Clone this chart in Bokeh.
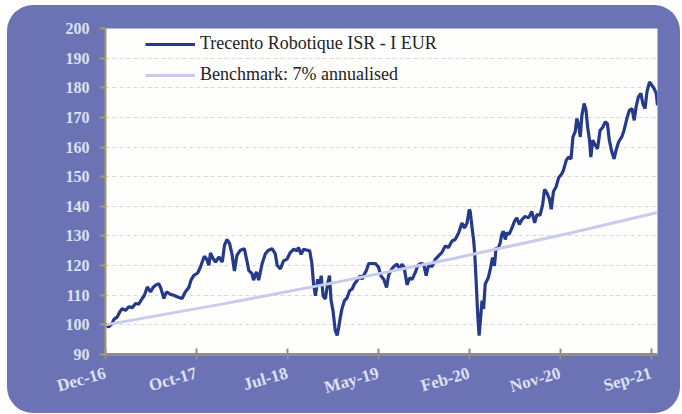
import math
import pandas as pd
from bokeh.plotting import figure
from bokeh.models import Range1d, FixedTicker, ColumnDataSource
from bokeh.embed import file_html
from bokeh.resources import INLINE

# ---- data ----
fund_dates = [
    "2016-12-30", "2017-01-09", "2017-01-20", "2017-01-25", "2017-02-05", "2017-02-13", "2017-02-20",
    "2017-03-03", "2017-03-13", "2017-03-24", "2017-04-03", "2017-04-13", "2017-04-24", "2017-05-01",
    "2017-05-10", "2017-05-20", "2017-05-28", "2017-06-05", "2017-06-15", "2017-06-22", "2017-07-01",
    "2017-07-09", "2017-07-22", "2017-08-01", "2017-08-13", "2017-08-27", "2017-09-06", "2017-09-17",
    "2017-09-24", "2017-10-03", "2017-10-15", "2017-10-24", "2017-10-29", "2017-11-05", "2017-11-11",
    "2017-11-19", "2017-11-24", "2017-12-02", "2017-12-10", "2017-12-20", "2017-12-31", "2018-01-07",
    "2018-01-15", "2018-01-23", "2018-01-31", "2018-02-07", "2018-02-15", "2018-02-26", "2018-03-10",
    "2018-03-19", "2018-03-24", "2018-04-03", "2018-04-08", "2018-04-17", "2018-04-24", "2018-05-05",
    "2018-05-15", "2018-05-25", "2018-06-05", "2018-06-15", "2018-06-21", "2018-07-01", "2018-07-11",
    "2018-07-22", "2018-08-01", "2018-08-12", "2018-08-22", "2018-08-27", "2018-09-04", "2018-09-12",
    "2018-09-23", "2018-10-01", "2018-10-08", "2018-10-13", "2018-10-19", "2018-10-26", "2018-11-01",
    "2018-11-06", "2018-11-12", "2018-11-19", "2018-11-26", "2018-12-02", "2018-12-07", "2018-12-13",
    "2018-12-20", "2018-12-26", "2018-12-31", "2019-01-05", "2019-01-10", "2019-01-18", "2019-01-26",
    "2019-02-03", "2019-02-11", "2019-02-18", "2019-02-26", "2019-03-09", "2019-03-14", "2019-03-21",
    "2019-03-27", "2019-04-04", "2019-04-14", "2019-04-25", "2019-05-05", "2019-05-12", "2019-05-21",
    "2019-05-30", "2019-06-05", "2019-06-13", "2019-06-21", "2019-07-02", "2019-07-10", "2019-07-17",
    "2019-07-24", "2019-08-02", "2019-08-10", "2019-08-18", "2019-08-28", "2019-09-04", "2019-09-13",
    "2019-09-23", "2019-10-01", "2019-10-09", "2019-10-19", "2019-10-30", "2019-11-09", "2019-11-19",
    "2019-11-30", "2019-12-10", "2019-12-21", "2019-12-31", "2020-01-11", "2020-01-21", "2020-01-29",
    "2020-02-06", "2020-02-13", "2020-02-16", "2020-02-22", "2020-02-27", "2020-03-01", "2020-03-05",
    "2020-03-08", "2020-03-11", "2020-03-15", "2020-03-19", "2020-03-24", "2020-03-29", "2020-04-03",
    "2020-04-08", "2020-04-13", "2020-04-19", "2020-04-26", "2020-05-02", "2020-05-07", "2020-05-13",
    "2020-05-20", "2020-05-25", "2020-05-30", "2020-06-05", "2020-06-10", "2020-06-17", "2020-06-26",
    "2020-07-04", "2020-07-11", "2020-07-19", "2020-07-27", "2020-08-06", "2020-08-17", "2020-08-27",
    "2020-09-05", "2020-09-12", "2020-09-22", "2020-09-30", "2020-10-06", "2020-10-13", "2020-10-21",
    "2020-10-27", "2020-11-03", "2020-11-11", "2020-11-19", "2020-11-29", "2020-12-04", "2020-12-13",
    "2020-12-20", "2020-12-28", "2021-01-03", "2021-01-10", "2021-01-15", "2021-01-20", "2021-01-26",
    "2021-01-31", "2021-02-07", "2021-02-13", "2021-02-18", "2021-02-24", "2021-02-28", "2021-03-06",
    "2021-03-14", "2021-03-21", "2021-03-29", "2021-04-07", "2021-04-14", "2021-04-21", "2021-04-27",
    "2021-05-05", "2021-05-12", "2021-05-18", "2021-05-26", "2021-06-05", "2021-06-12", "2021-06-21",
    "2021-06-29", "2021-07-07", "2021-07-14", "2021-07-20", "2021-07-27", "2021-08-04", "2021-08-10",
    "2021-08-17", "2021-08-23", "2021-08-31", "2021-09-07", "2021-09-14", "2021-09-21", "2021-09-25",
]
fund_values = [
    99.9, 99.3, 100.4, 101.8, 102.7, 104.4, 105.5,
    104.9, 106.1, 105.8, 107.2, 107.0, 108.9, 110.0,
    112.8, 111.1, 112.6, 113.4, 113.9, 112.2, 108.9,
    111.1, 110.3, 110.0, 109.4, 108.9, 111.1, 112.6,
    115.1, 116.7, 117.5, 119.6, 121.2, 123.1, 122.4,
    120.1, 124.3, 122.4, 121.2, 122.9, 121.2, 126.9,
    128.8, 127.4, 123.5, 118.2, 123.5, 125.2, 125.7,
    121.2, 118.4, 117.3, 115.1, 117.9, 115.1, 120.7,
    124.0, 125.2, 125.7, 124.0, 120.1, 118.9, 121.6,
    122.2, 124.4, 125.5, 125.0, 126.1, 123.8, 125.5,
    125.2, 125.0, 120.5, 113.8, 109.8, 115.4, 113.2,
    116.6, 109.8, 108.7, 113.8, 116.6, 108.2, 104.8,
    98.1, 96.4, 99.2, 102.6, 105.4, 108.2, 109.1,
    111.5, 112.1, 113.8, 114.9, 116.6, 115.4, 117.1,
    118.2, 120.7, 120.7, 120.7, 119.4, 116.6, 115.4,
    112.6, 116.6, 118.5, 119.6, 120.5, 118.8, 120.5,
    119.4, 113.5, 115.8, 115.4, 117.7, 119.9, 120.7,
    120.5, 116.6, 120.5, 119.6, 122.2, 123.3, 124.4,
    126.6, 126.1, 128.3, 128.8, 131.1, 134.4, 132.7,
    134.4, 138.9, 138.3, 132.7, 128.3, 124.4, 116.0,
    109.3, 102.6, 96.4, 101.5, 108.2, 105.4, 113.7,
    114.9, 116.0, 118.8, 122.7, 119.9, 126.0, 125.5,
    127.7, 130.5, 131.6, 128.8, 131.1, 130.5, 132.7,
    135.0, 136.1, 133.9, 135.5, 136.6, 136.1, 138.3,
    134.4, 137.2, 137.0, 140.5, 145.7, 144.6, 142.6,
    139.0, 145.0, 146.5, 149.6, 151.0, 152.1, 155.5,
    156.6, 156.0, 163.4, 165.1, 169.6, 167.9, 163.4,
    170.7, 174.7, 172.4, 166.8, 162.3, 156.6, 162.3,
    160.6, 159.4, 165.6, 166.8, 168.5, 167.9, 162.3,
    158.3, 156.0, 158.9, 161.7, 163.4, 165.6, 169.6,
    172.4, 173.0, 169.0, 173.6, 176.9, 178.1, 174.7,
    173.0, 178.6, 182.0, 180.9, 179.8, 178.1, 174.1,
]

bench_dates = ["2016-12-30", "2017-12-30", "2018-12-30", "2019-12-30", "2020-12-30", "2021-09-25"]
bench_values = [100.0, 107.0, 114.5, 122.5, 131.1, 137.9]

tick_dates = ["2016-12-30", "2017-10-11", "2018-07-23", "2019-05-04", "2020-02-13", "2020-11-24", "2021-09-05"]
tick_labels = ["Dec-16", "Oct-17", "Jul-18", "May-19", "Feb-20", "Nov-20", "Sep-21"]
y_ticks = [90, 100, 110, 120, 130, 140, 150, 160, 170, 180, 190, 200]

series_names = ["Trecento Robotique ISR - I EUR", "Benchmark: 7% annualised"]

# ---- build ----
fund_x = pd.to_datetime(fund_dates)
bench_x = pd.to_datetime(bench_dates)
tick_x = pd.to_datetime(tick_dates)
tick_ms = [int(t.value // 10**6) for t in tick_x]

BLUE = "#6b73b5"
NAVY = "#263a8a"
LAV = "#c9cbec"
LABEL = "#dfe0f2"
FONT = "Liberation Serif"

p = figure(
    width=673, height=408,
    x_axis_type="datetime",
    x_range=Range1d(fund_x[0], fund_x[-1]),
    y_range=Range1d(y_ticks[0], y_ticks[-1]),
    output_backend="svg", toolbar_location=None,
    min_border_left=98, min_border_right=23, min_border_top=23, min_border_bottom=59,
    background_fill_color="#fefefd", border_fill_color=None,
    outline_line_color=None,
    styles={"background-color": BLUE, "border-radius": "26px",
            "margin-left": "7px", "margin-top": "5px"},
)

src_f = ColumnDataSource(dict(x=fund_x, y=fund_values))
src_b = ColumnDataSource(dict(x=bench_x, y=bench_values))
p.line("x", "y", source=src_f, line_color=NAVY, line_width=3.2, legend_label=series_names[0])
p.line("x", "y", source=src_b, line_color=LAV, line_width=3, legend_label=series_names[1])

# axes
p.xaxis.ticker = FixedTicker(ticks=tick_ms)
p.xaxis.major_label_overrides = {ms: lab for ms, lab in zip(tick_ms, tick_labels)}
p.xaxis.major_label_orientation = 0.28
p.xaxis.axis_line_color = "#8e8e8e"
p.xaxis.axis_line_width = 3
p.xaxis.major_tick_line_color = "#8e8e8e"
p.xaxis.major_tick_line_width = 2
p.xaxis.major_tick_in = 6
p.xaxis.major_tick_out = 5
p.xaxis.minor_tick_line_color = None
p.xaxis.major_label_text_font = FONT
p.xaxis.major_label_text_font_style = "bold"
p.xaxis.major_label_text_font_size = "17px"
p.xaxis.major_label_text_color = LABEL
p.xaxis.major_label_standoff = 13

p.yaxis.ticker = FixedTicker(ticks=y_ticks)
p.yaxis.axis_line_color = "#a89a68"
p.yaxis.axis_line_width = 2
p.yaxis.major_tick_line_color = "#a89a68"
p.yaxis.major_tick_line_width = 2
p.yaxis.major_tick_in = 0
p.yaxis.major_tick_out = 6
p.yaxis.minor_tick_line_color = None
p.yaxis.major_label_text_font = FONT
p.yaxis.major_label_text_font_style = "bold"
p.yaxis.major_label_text_font_size = "16px"
p.yaxis.major_label_text_color = LABEL
p.yaxis.major_label_standoff = 10

p.xgrid.grid_line_color = None
p.ygrid.grid_line_color = "#d8d8d8"
p.ygrid.grid_line_dash = "4 3"
p.ygrid.grid_line_width = 1

lg = p.legend[0]
lg.location = (40, 269)
lg.background_fill_alpha = 0
lg.border_line_color = None
lg.padding = 0
lg.margin = 0
lg.spacing = 10
lg.glyph_width = 50
lg.glyph_height = 20
lg.label_height = 20
lg.label_standoff = 5
lg.label_text_font = FONT
lg.label_text_font_size = "18px"
lg.label_text_color = "#222222"

open("out.html", "w").write(file_html(p, INLINE))
